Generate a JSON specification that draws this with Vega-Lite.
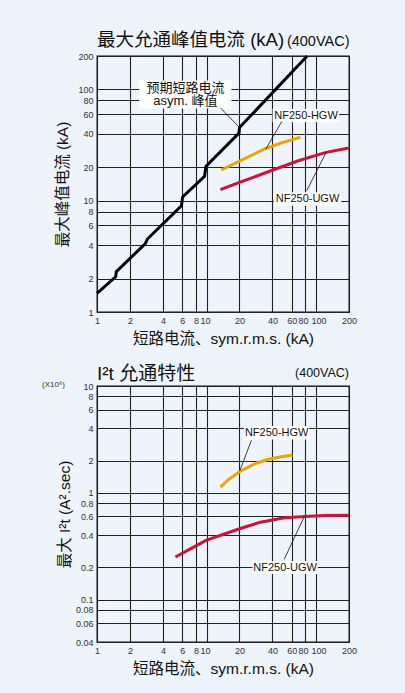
{
  "$schema": "https://vega.github.io/schema/vega-lite/v6.json",
  "background": "#EDF4FB",
  "padding": {"left": 41, "top": 30, "right": 49, "bottom": 18},
  "bounds": "flush",
  "spacing": 74,
  "config": {
    "font": "Liberation Sans, Noto Sans CJK SC, sans-serif",
    "view": {"stroke": "#111", "strokeWidth": 1.3},
    "axis": {
      "grid": true, "gridColor": "#222", "gridWidth": 1.1, "gridOpacity": 1,
      "ticks": false, "domain": false, "labelFontSize": 9, "labelColor": "#333",
      "labelOverlap": false, "labelFlush": false, "labelBound": false, "labelPadding": 4,
      "titleFontSize": 15.5, "titleFontWeight": "normal", "titleColor": "#111", "format": "~g"
    }
  },
  "datasets": {
    "peak": [
      {"x": 1, "y": 1.47}, {"x": 1.48, "y": 2.07}, {"x": 1.5, "y": 2.3},
      {"x": 2.75, "y": 4.1}, {"x": 2.9, "y": 4.55}, {"x": 5.9, "y": 9.0},
      {"x": 6.05, "y": 10.8}, {"x": 9.6, "y": 16.6}, {"x": 9.9, "y": 20.4},
      {"x": 19.8, "y": 40.5}, {"x": 20.0, "y": 45.5}, {"x": 83, "y": 200}
    ],
    "hgwTop": [
      {"x": 13.6, "y": 18.9}, {"x": 20, "y": 22.7}, {"x": 34.8, "y": 29.5},
      {"x": 50, "y": 33.5}, {"x": 72, "y": 37.2}
    ],
    "ugwTop": [
      {"x": 13.4, "y": 12.6}, {"x": 20, "y": 14.6}, {"x": 38.7, "y": 18.6},
      {"x": 70, "y": 23}, {"x": 123.6, "y": 27.2}, {"x": 200, "y": 29.8}
    ],
    "hgwBot": [
      {"x": 13.4, "y": 1.13}, {"x": 16, "y": 1.34}, {"x": 20.5, "y": 1.6},
      {"x": 28, "y": 1.88}, {"x": 36, "y": 2.05}, {"x": 48, "y": 2.17}, {"x": 61, "y": 2.26}
    ],
    "ugwBot": [
      {"x": 5.2, "y": 0.25}, {"x": 8, "y": 0.318}, {"x": 10, "y": 0.36},
      {"x": 15.5, "y": 0.42}, {"x": 20, "y": 0.46}, {"x": 31, "y": 0.53},
      {"x": 50, "y": 0.58}, {"x": 78, "y": 0.6}, {"x": 120, "y": 0.612}, {"x": 200, "y": 0.615}
    ],
    "boxTop": [
      {"x": 2.43, "x2": 16.9, "y": 67.4, "y2": 120.5},
      {"x": 40.1, "x2": 162.6, "y": 50.8, "y2": 67},
      {"x": 41.2, "x2": 169.5, "y": 9.0, "y2": 11.9}
    ],
    "leadTop": [
      {"x": 13.5, "y": 68, "x2": 19.8, "y2": 46},
      {"x": 48.8, "y": 51.8, "x2": 34.8, "y2": 29.2},
      {"x": 82.2, "y": 12.3, "x2": 123.6, "y2": 27.2}
    ],
    "textTop": [
      {"x": 6.42, "y": 104, "t": "预期短路电流", "s": 13},
      {"x": 6.42, "y": 78, "t": "asym. 峰值", "s": 13},
      {"x": 81, "y": 58.3, "t": "NF250-HGW", "s": 11},
      {"x": 83.6, "y": 10.4, "t": "NF250-UGW", "s": 11}
    ],
    "titleTop": [
      {"x": 1, "y": 246, "t": "最大允通峰值电流 (kA)"}
    ],
    "noteTop": [
      {"x": 54.2, "y": 246, "t": "(400VAC)"}
    ],
    "boxBot": [
      {"x": 22, "x2": 86.9, "y": 3.16, "y2": 4.22},
      {"x": 26.3, "x2": 103.5, "y": 0.173, "y2": 0.23}
    ],
    "leadBot": [
      {"x": 25.7, "y": 3.1, "x2": 20.1, "y2": 1.6},
      {"x": 51.2, "y": 0.238, "x2": 78.2, "y2": 0.6}
    ],
    "textBot": [
      {"x": 43.7, "y": 3.65, "t": "NF250-HGW"},
      {"x": 52.2, "y": 0.199, "t": "NF250-UGW"}
    ],
    "titleBot": [
      {"x": 1, "y": 11.4, "t": "I²t 允通特性"}
    ],
    "noteBotR": [
      {"x": 200, "y": 12.1, "t": "(400VAC)"}
    ],
    "noteBotL": [
      {"x": 0.51, "y": 10.2, "t": "(X10⁶)"}
    ]
  },
  "vconcat": [
    {
      "width": 252,
      "height": 256,
      "encoding": {
        "x": {"field": "x", "type": "quantitative",
              "scale": {"type": "log", "domain": [1, 200], "nice": false},
              "axis": {"values": [1, 2, 4, 6, 8, 10, 20, 40, 60, 80, 100, 200], "title": "短路电流、sym.r.m.s. (kA)", "titlePadding": 6,
                       "labelOffset": {"condition": [{"test": "datum.value == 80", "value": -2.5}, {"test": "datum.value == 100", "value": 2.5}, {"test": "datum.value == 10", "value": -1.5}], "value": 0}}},
        "y": {"field": "y", "type": "quantitative",
              "scale": {"type": "log", "domain": [1, 200], "nice": false},
              "axis": {"values": [1, 2, 4, 6, 8, 10, 20, 40, 60, 80, 100, 200], "title": "最大峰值电流 (kA)", "titlePadding": 7}}
      },
      "layer": [
        {"data": {"name": "peak"}, "mark": {"type": "line", "color": "#000", "strokeWidth": 3}},
        {"data": {"name": "hgwTop"}, "mark": {"type": "line", "color": "#EEA500", "strokeWidth": 3}},
        {"data": {"name": "ugwTop"}, "mark": {"type": "line", "color": "#D3103A", "strokeWidth": 3}},
        {"data": {"name": "boxTop"}, "mark": {"type": "rect", "color": "#FFFFFF", "opacity": 1},
         "encoding": {"x2": {"field": "x2"}, "y2": {"field": "y2"}}},
        {"data": {"name": "leadTop"}, "mark": {"type": "rule", "color": "#111", "strokeWidth": 0.8},
         "encoding": {"x2": {"field": "x2"}, "y2": {"field": "y2"}}},
        {"data": {"name": "textTop"}, "mark": {"type": "text", "color": "#111", "align": "center", "baseline": "middle"},
         "encoding": {"text": {"field": "t"}, "size": {"field": "s", "type": "quantitative", "scale": null}}},
        {"data": {"name": "titleTop"}, "mark": {"type": "text", "color": "#111", "align": "left", "baseline": "alphabetic", "fontSize": 18.5},
         "encoding": {"text": {"field": "t"}}},
        {"data": {"name": "noteTop"}, "mark": {"type": "text", "color": "#111", "align": "left", "baseline": "alphabetic", "fontSize": 14.5},
         "encoding": {"text": {"field": "t"}}}
      ]
    },
    {
      "width": 252,
      "height": 256,
      "encoding": {
        "x": {"field": "x", "type": "quantitative",
              "scale": {"type": "log", "domain": [1, 200], "nice": false},
              "axis": {"values": [1, 2, 4, 6, 8, 10, 20, 40, 60, 80, 100, 200], "title": "短路电流、sym.r.m.s. (kA)", "titlePadding": 6,
                       "labelOffset": {"condition": [{"test": "datum.value == 80", "value": -2.5}, {"test": "datum.value == 100", "value": 2.5}, {"test": "datum.value == 10", "value": -1.5}], "value": 0}}},
        "y": {"field": "y", "type": "quantitative",
              "scale": {"type": "log", "domain": [0.04, 10], "nice": false},
              "axis": {"values": [0.04, 0.06, 0.08, 0.1, 0.2, 0.4, 0.6, 0.8, 1, 2, 4, 6, 8, 10], "title": "最大 I²t (A².sec)", "titlePadding": 3}}
      },
      "layer": [
        {"data": {"name": "hgwBot"}, "mark": {"type": "line", "color": "#EEA500", "strokeWidth": 3}},
        {"data": {"name": "ugwBot"}, "mark": {"type": "line", "color": "#D3103A", "strokeWidth": 3}},
        {"data": {"name": "boxBot"}, "mark": {"type": "rect", "color": "#FFFFFF", "opacity": 1},
         "encoding": {"x2": {"field": "x2"}, "y2": {"field": "y2"}}},
        {"data": {"name": "leadBot"}, "mark": {"type": "rule", "color": "#111", "strokeWidth": 0.8},
         "encoding": {"x2": {"field": "x2"}, "y2": {"field": "y2"}}},
        {"data": {"name": "textBot"}, "mark": {"type": "text", "color": "#111", "align": "center", "baseline": "middle", "fontSize": 11},
         "encoding": {"text": {"field": "t"}}},
        {"data": {"name": "titleBot"}, "mark": {"type": "text", "color": "#111", "align": "left", "baseline": "alphabetic", "fontSize": 19},
         "encoding": {"text": {"field": "t"}}},
        {"data": {"name": "noteBotR"}, "mark": {"type": "text", "color": "#111", "align": "right", "baseline": "alphabetic", "fontSize": 12.5},
         "encoding": {"text": {"field": "t"}}},
        {"data": {"name": "noteBotL"}, "mark": {"type": "text", "color": "#333", "align": "right", "baseline": "middle", "fontSize": 8},
         "encoding": {"text": {"field": "t"}}}
      ]
    }
  ]
}
